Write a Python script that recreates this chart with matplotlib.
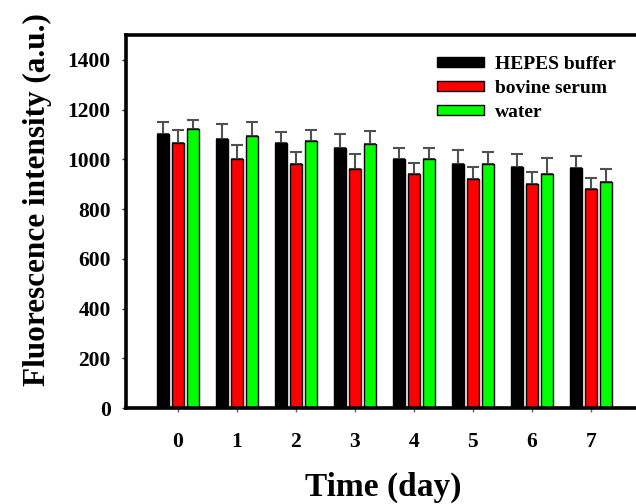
import matplotlib
matplotlib.use("Agg")
import matplotlib.pyplot as plt
import numpy as np

plt.rcParams['font.family'] = ['Liberation Serif', 'DejaVu Serif']
plt.rcParams['font.weight'] = 'bold'

days = [0, 1, 2, 3, 4, 5, 6, 7]
labels = ['HEPES buffer', 'bovine serum', 'water']
hepes = [1101, 1083, 1065, 1046, 1000, 981, 971, 965]
hepes_err = [51, 61, 45, 57, 47, 58, 49, 50]
serum = [1067, 1000, 983, 963, 940, 920, 900, 880]
serum_err = [51, 59, 47, 60, 47, 49, 48, 46]
water = [1121, 1093, 1073, 1063, 1000, 980, 940, 910]
water_err = [39, 59, 45, 52, 47, 48, 66, 53]

colors = ['#000000', '#ff0000', '#00ff00']

fig = plt.figure(figsize=(6.36, 5.04), dpi=100)
ax = fig.add_axes([126/636, 96/504, 518/636, 373/504])

x = np.arange(len(days))
w = 0.2
off = 0.255
series = [(hepes, hepes_err), (serum, serum_err), (water, water_err)]
for i, (vals, err) in enumerate(series):
    pos = x + (i - 1) * off
    ax.bar(pos, vals, width=w, color=colors[i], edgecolor='black',
           linewidth=1, label=labels[i], zorder=2)
    ax.errorbar(pos, vals, yerr=[np.zeros(len(err)), err], fmt='none',
                ecolor='#505050', elinewidth=1.5, capsize=4.5, capthick=1.5,
                zorder=1)

ax.set_xlim(-0.88, 7.9)
ax.set_ylim(0, 1500)
ax.set_xticks(x)
ax.set_xticklabels([str(d) for d in days])
ax.set_yticks(np.arange(0, 1401, 200))

for s in ['left', 'bottom', 'top']:
    ax.spines[s].set_linewidth(2.6)
ax.spines['right'].set_visible(False)

ax.tick_params(axis='x', direction='out', length=3, width=1, color='#606060',
               pad=14, labelsize=15.5)
ax.tick_params(axis='y', direction='out', length=3, width=1, color='#303030',
               pad=8, labelsize=15.5)
for t in ax.get_xticklabels() + ax.get_yticklabels():
    t.set_fontweight('bold')

fig.text(383/636, 1 - 487/504, 'Time (day)', ha='center', va='center',
         fontsize=24, fontweight='bold')
fig.text(37/636, 1 - 200/504, 'Fluorescence intensity (a.u.)', ha='center',
         va='center', rotation=90, fontsize=22.5, fontweight='bold')

leg = ax.legend(loc='upper left', bbox_to_anchor=(437/636, 1 - 56/504),
                bbox_transform=fig.transFigure, frameon=False,
                fontsize=14, handlelength=2.4, handleheight=0.4,
                labelspacing=0.36, handletextpad=0.6, borderpad=0,
                borderaxespad=0)
for t in leg.get_texts():
    t.set_fontweight('bold')

fig.savefig('out.png', dpi=100)
